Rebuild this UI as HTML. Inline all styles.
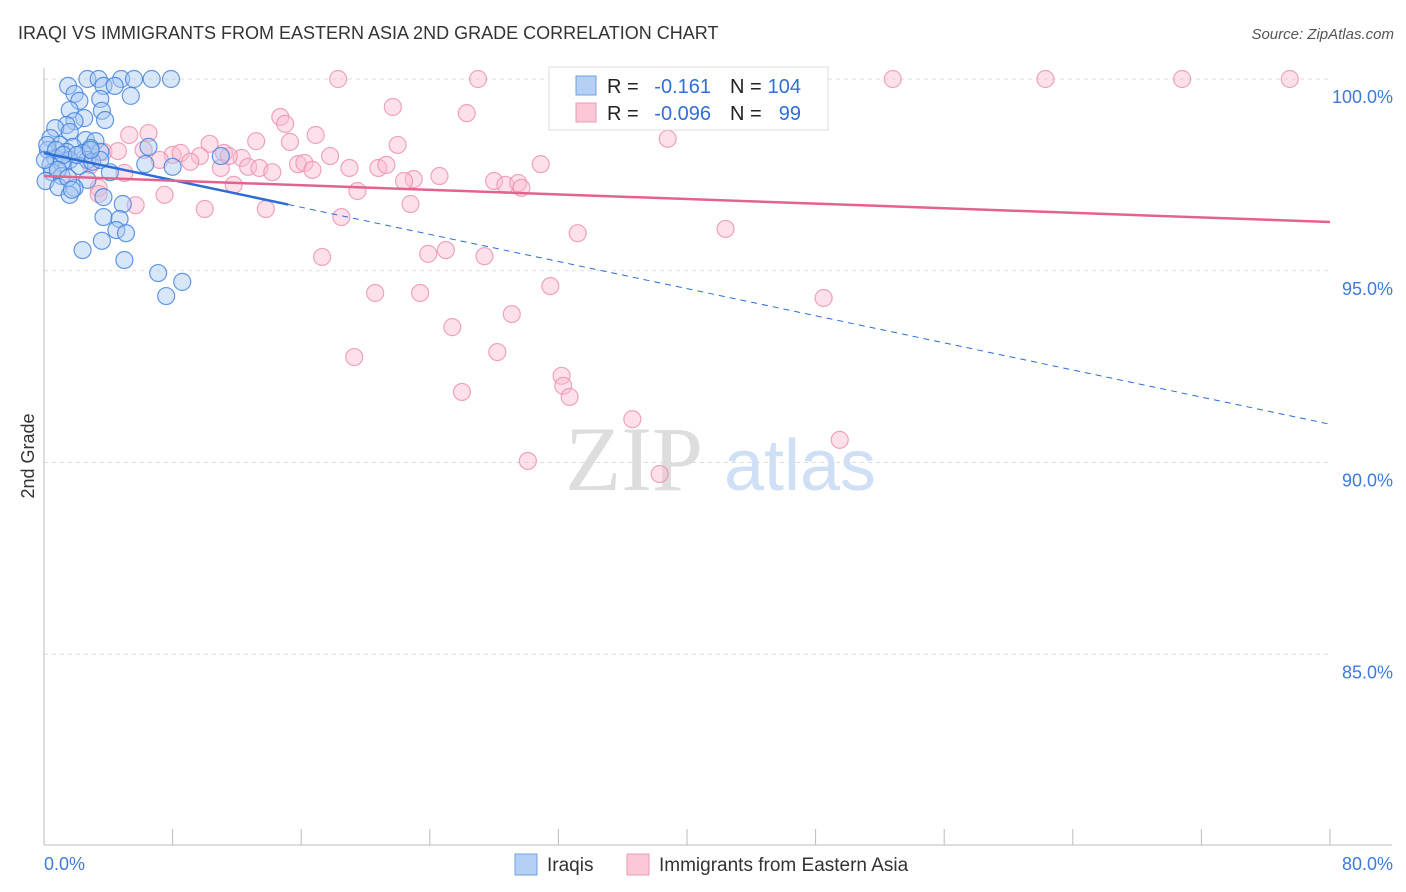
<!DOCTYPE html>
<html><head><meta charset="utf-8"><style>
body{margin:0;background:#fff;font-family:"Liberation Sans",sans-serif}
</style></head><body>
<svg id="chart" width="1406" height="892" xmlns="http://www.w3.org/2000/svg" style="display:block">
<text x="18" y="39" font-size="18" fill="#333">IRAQI VS IMMIGRANTS FROM EASTERN ASIA 2ND GRADE CORRELATION CHART</text>
<text x="1394" y="39" font-size="15" fill="#555" text-anchor="end" font-style="italic">Source: ZipAtlas.com</text>
<text transform="translate(34,456) rotate(-90)" font-size="18" fill="#333" text-anchor="middle">2nd Grade</text>
<g><text x="634" y="490" font-size="92" fill="#ddd" text-anchor="middle" font-family="Liberation Serif,serif">ZIP</text><text x="800" y="490" font-size="72" fill="#cfdff5" text-anchor="middle">atlas</text></g>
<g id="grid"></g><g id="marks"></g><g id="lines"></g>
<g>
<rect x="549" y="67" width="279" height="63" fill="#fff" stroke="#ddd"/>
<rect x="576" y="76" width="20" height="19" fill="#b5d0f5" stroke="#6f9fe0"/>
<rect x="576" y="103" width="20" height="19" fill="#fcc8d6" stroke="#eb9ab2"/>
<text x="607" y="93" font-size="20" fill="#222">R =</text>
<text x="711" y="93" font-size="20" fill="#2f6fd6" text-anchor="end">-0.161</text>
<text x="730" y="93" font-size="20" fill="#222">N =</text>
<text x="801" y="93" font-size="20" fill="#2f6fd6" text-anchor="end">104</text>
<text x="607" y="120" font-size="20" fill="#222">R =</text>
<text x="711" y="120" font-size="20" fill="#2f6fd6" text-anchor="end">-0.096</text>
<text x="730" y="120" font-size="20" fill="#222">N =</text>
<text x="801" y="120" font-size="20" fill="#2f6fd6" text-anchor="end">99</text>
</g>
<g>
<rect x="515" y="854" width="22" height="21" fill="#b5d0f5" stroke="#6f9fe0"/>
<text x="547" y="871" font-size="19" fill="#333">Iraqis</text>
<rect x="627" y="854" width="22" height="21" fill="#fcc8d6" stroke="#eb9ab2"/>
<text x="659" y="871" font-size="19" fill="#333">Immigrants from Eastern Asia</text>
</g>
</svg>
<script>
const yTicks=[100,95,90,85];
const yTickLabels=["100.0%","95.0%","90.0%","85.0%"];
const xTicks=[0,8,16,24,32,40,48,56,64,72,80];
const blueX=[1.5,2.7,3.4,4.8,5.6,6.7,7.9,3.7,4.4,1.9,2.2,3.5,5.4,1.6,3.6,2.5,1.9,3.8,1.4,0.7,1.6,0.4,2.6,3.2,1.0,1.8,2.9,0.25,1.4,2.4,3.5,6.5,0.7,1.6,2.7,11.0,0.4,1.1,2.2,3.0,6.3,8.0,4.1,0.5,1.1,2.7,0.1,0.9,1.9,1.6,3.7,4.9,3.7,4.7,4.5,5.1,3.6,2.4,5.0,7.1,8.6,7.6,0.2,0.75,1.2,2.05,0.06,0.87,1.5,1.74,3.5,2.9];
const blueY=[99.82,100,100,100,100,100,100,99.82,99.82,99.61,99.43,99.48,99.56,99.19,99.17,98.98,98.9,98.93,98.8,98.72,98.62,98.46,98.41,98.38,98.28,98.23,98.2,98.15,98.1,98.07,98.1,98.23,97.94,97.89,97.89,97.99,97.76,97.81,97.73,97.84,97.78,97.71,97.57,97.57,97.47,97.37,97.34,97.18,97.16,96.98,96.92,96.74,96.4,96.35,96.06,95.98,95.78,95.54,95.28,94.94,94.71,94.34,98.28,98.15,98.02,98.02,97.89,97.63,97.42,97.11,97.89,98.15];
const pinkX=[18.3,27.0,37.2,43.1,52.8,62.3,70.8,77.5,38.3,46.2,21.7,26.3,14.7,15.0,38.8,5.3,6.5,16.9,22.0,10.3,13.2,15.3,6.2,8.0,8.5,9.7,11.2,12.3,3.7,4.6,17.8,7.2,9.1,11.0,12.7,13.4,14.2,15.8,16.2,16.7,19.0,20.8,21.3,23.0,22.4,24.6,28.0,28.7,29.5,29.7,30.9,3.4,5.0,7.5,10.0,11.8,13.8,19.5,18.5,22.8,33.2,42.4,25.0,23.9,27.4,17.3,20.6,23.4,31.5,48.5,25.4,29.1,19.3,28.2,32.2,32.3,32.7,26.0,36.6,49.5,30.1,38.3,11.5,2.9,5.7,3.4];
const pinkY=[100,100,100,100,100,100,100,100,99.97,100,99.27,99.11,99.01,98.83,98.44,98.54,98.59,98.54,98.28,98.31,98.38,98.36,98.15,98.02,98.07,97.99,98.07,97.94,98.1,98.12,97.99,97.89,97.84,97.68,97.71,97.68,97.57,97.78,97.81,97.63,97.68,97.68,97.76,97.39,97.34,97.47,97.34,97.24,97.29,97.16,97.78,97.16,97.55,96.98,96.61,97.24,96.61,97.08,96.4,96.74,95.98,96.09,95.54,95.44,95.38,95.36,94.42,94.42,94.6,94.29,93.53,93.87,92.75,92.88,92.26,92.0,91.71,91.84,91.13,90.59,90.04,89.7,97.99,97.76,96.71,97.0];
const blueTrend=[98.07,-0.0884]; // intercept, slope
const pinkTrend=[97.47,-0.015];
const X=v=>44+v*(1286/80), Y=v=>79+(100-v)*38.35;
const NS="http://www.w3.org/2000/svg";
function mk(t,a,p){const e=document.createElementNS(NS,t);for(const k in a)e.setAttribute(k,a[k]);p.appendChild(e);return e;}
const grid=document.getElementById('grid'),marks=document.getElementById('marks'),lines=document.getElementById('lines');
yTicks.forEach((v,i)=>{const l=mk('line',{x1:44,x2:1330,y1:Y(v),y2:Y(v),stroke:'#ddd','stroke-dasharray':'4,4'},grid);


const t=mk('text',{x:1393,y:Y(v)+24,'font-size':18,fill:'#3f7ad8','text-anchor':'end'},grid);t.textContent=yTickLabels[i];

});
const ax=mk('line',{x1:44,x2:44,y1:68,y2:845,stroke:'#bbb'},grid);


const bx=mk('line',{x1:44,x2:1392,y1:845,y2:845,stroke:'#bbb'},grid);


xTicks.forEach(v=>{const l=mk('line',{x1:X(v),x2:X(v),y1:829,y2:845,stroke:'#bbb'},grid);

});
[["0.0%",44,"start"],["80.0%",1393,"end"]].forEach(a=>{const t=mk('text',{x:a[1],y:870,'font-size':18,fill:'#3f7ad8','text-anchor':a[2]},grid);t.textContent=a[0];

});
function pts(xs,ys,f,s,n){xs.forEach((x,i)=>{const c=mk('circle',{cx:X(x),cy:Y(ys[i]),r:8.5,fill:f,'fill-opacity':0.45,stroke:s,'stroke-opacity':0.8,'stroke-width':1.2},marks);

});}
pts(pinkX,pinkY,'#fbbad0','#ea8fae','pink-point');
pts(blueX,blueY,'#a9c8f2','#3d7fdc','blue-point');
const ty=(t,x)=>t[0]+t[1]*x;
let l=mk('line',{x1:X(0),y1:Y(ty(blueTrend,0)),x2:X(15.2),y2:Y(ty(blueTrend,15.2)),stroke:'#2b6cd6','stroke-width':2.5},lines);


l=mk('line',{x1:X(15.2),y1:Y(ty(blueTrend,15.2)),x2:X(80),y2:Y(ty(blueTrend,80)),stroke:'#2b6cd6','stroke-width':1,'stroke-dasharray':'6,5'},lines);


l=mk('line',{x1:X(0),y1:Y(ty(pinkTrend,0)),x2:X(80),y2:Y(ty(pinkTrend,80)),stroke:'#e4628e','stroke-width':2.5},lines);


</script>
</body></html>
